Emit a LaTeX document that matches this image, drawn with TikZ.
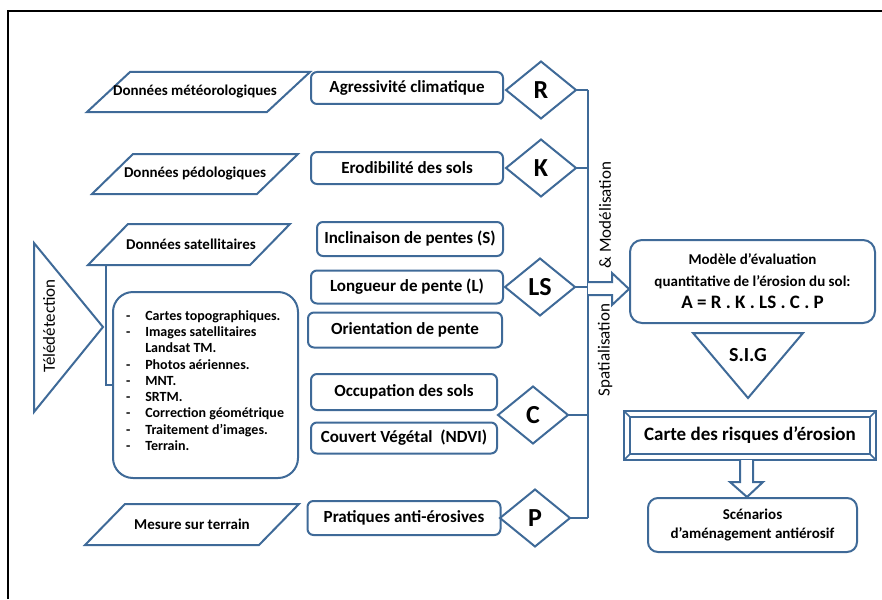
\documentclass[tikz,border=0pt]{standalone}
\usepackage{fontspec}
\setmainfont{Carlito}
\usetikzlibrary{shapes.geometric,calc}
\definecolor{shp}{HTML}{3F6A98}
\newcommand\myfs[2]{\fontsize{#1}{#2}\selectfont}
\begin{document}
\begin{tikzpicture}[x=1pt,y=-1pt,
  every node/.style={inner sep=0pt, outer sep=0pt},
  paratext/.style={font=\myfs{15}{18}\bfseries},
  paraline/.style={draw=shp, line width=2pt, line join=miter},
  rbox/.style={draw=shp, line width=2pt, rounded corners=6pt, rectangle,
    font=\myfs{17}{20}\bfseries},
  dia/.style={draw=shp, line width=2pt, diamond, minimum width=70pt,
    minimum height=57pt, font=\myfs{26}{30}\bfseries},
  bus/.style={draw=shp, line width=2pt},
  vlab/.style={rotate=90, font=\myfs{17}{20}},
  blockarrow/.style={draw=shp, line width=2pt, fill=white, line join=miter},
]
\useasboundingbox (0,0) rectangle (882,599);
% outer frame
\draw[black, line width=2pt] (8,599) -- (8,11) -- (882,11);

% input parallelograms
\draw[paraline] (87,112) -- (130,72) -- (310,72) -- (267,112) -- cycle;
\node[paratext] (meteo) at (195,92) {Données météorologiques};
\draw[paraline] (92,194) -- (133,154) -- (298,154) -- (257,194) -- cycle;
\node[paratext] (pedo) at (195,174) {Données pédologiques};
\draw[paraline] (88,265) -- (128,224) -- (290,224) -- (250,265) -- cycle;
\node[paratext] (sat) at (191,244.5) {Données satellitaires};
\coordinate (satfoot) at (106,265);
\draw[paraline] (85,545) -- (125,504) -- (299,504) -- (259,545) -- cycle;
\node[paratext] (mesure) at (192,524.5) {Mesure sur terrain};

% teledetection triangle
\draw[paraline] (34,243) -- (34,412) -- (103,327) -- cycle;
\node[vlab] (tele) at (49,326) {Télédétection};

% source list box
\node[rbox, minimum width=185pt, minimum height=186pt, rounded corners=20pt] (src) at (205.5,385) {};
\node[anchor=west, font=\myfs{14}{16.25}\bfseries] (srclist) at (126,382) {%
\begin{tabular}{@{}l@{\hspace{15pt}}l@{}}
- & Cartes topographiques.\\
- & Images satellitaires\\
  & Landsat TM.\\
- & Photos aériennes.\\
- & MNT.\\
- & SRTM.\\
- & Correction géométrique\\
- & Traitement d’images.\\
- & Terrain.
\end{tabular}};
\draw[bus] (satfoot) |- (src.west);

% factor boxes
\node[rbox, minimum width=192pt, minimum height=32pt] (b1) at (407,88) {Agressivité climatique};
\node[rbox, minimum width=192pt, minimum height=32pt] (b2) at (407,168) {Erodibilité des sols};
\node[rbox, minimum width=186pt, minimum height=34pt] (b3) at (410,239) {Inclinaison de pentes (S)};
\node[rbox, minimum width=192pt, minimum height=33pt] (b4) at (407,287) {Longueur de pente (L)};
\node[rbox, minimum width=194pt, minimum height=35pt] (b5) at (405,330) {Orientation de pente};
\node[rbox, minimum width=186pt, minimum height=36pt] (b6) at (404,392) {Occupation des sols};
\node[rbox, minimum width=186pt, minimum height=31pt] (b7) at (404,438) {Couvert Végétal\ \ (NDVI)};
\node[rbox, minimum width=193pt, minimum height=34pt] (b8) at (404,518) {Pratiques anti-érosives};

% diamonds
\node[dia] (R) at (541,90) {R};
\node[dia] (K) at (541,168) {K};
\node[dia] (LS) at (540,287) {LS};
\node[dia] (C) at (533,415) {C};
\node[dia] (P) at (535,518) {P};

% bus
\coordinate (bustop) at (588,90);
\coordinate (busbot) at (588,518);
\draw[bus] (bustop) -- (busbot);
\foreach \d in {R,K,LS,C,P} \draw[bus] (\d.east) -- (\d.east -| bustop);

\node[vlab] (modlab) at (605,215) {\&\ Modélisation};
\node[vlab] (spalab) at (605,350) {Spatialisation};

% model box
\node[rbox, minimum width=245pt, minimum height=83pt, rounded corners=12pt,
  align=center, font=\myfs{15}{22}\bfseries] (model) at (752.5,281.5)
  {Modèle d’évaluation\\quantitative de l’érosion du sol:\\{\myfs{19}{22}A = R . K . LS . C . P}};

% arrow bus -> model
\coordinate (arrtip) at (629,289);
\draw[blockarrow] (588,282) -- (612,282) -- (612,273) -- (arrtip) -- (612,305) -- (612,295) -- (588,295);

% SIG triangle
\draw[paraline] (693,333) -- (803,333) -- (748,398) -- cycle;
\node[font=\myfs{20}{24}\bfseries] (sig) at (748,355) {S.I.G};

% carte box (bevel)
\node[draw=shp, line width=2pt, minimum width=252pt, minimum height=49pt,
  font=\myfs{19}{22}\bfseries] (carte) at (750,435.5) {Carte des risques d’érosion};
\draw[shp, line width=1.5pt] ($(carte.north west)+(6,6)$) rectangle ($(carte.south east)+(-6,-6)$);
\draw[shp, line width=1.5pt] (carte.north west) -- ++(6,6);
\draw[shp, line width=1.5pt] (carte.north east) -- ++(-6,6);
\draw[shp, line width=1.5pt] (carte.south west) -- ++(6,-6);
\draw[shp, line width=1.5pt] (carte.south east) -- ++(-6,-6);

% scenarios box
\node[rbox, minimum width=209pt, minimum height=54pt, rounded corners=10pt,
  align=center, font=\myfs{15}{19}\bfseries] (scen) at (752.5,525)
  {Scénarios\\d’aménagement antiérosif};

% down arrow carte -> scen
\draw[blockarrow] (740,460) -- (740,482) -- (730,482) -- (747,497) -- (763,482) -- (753,482) -- (753,460);
\end{tikzpicture}
\end{document}
